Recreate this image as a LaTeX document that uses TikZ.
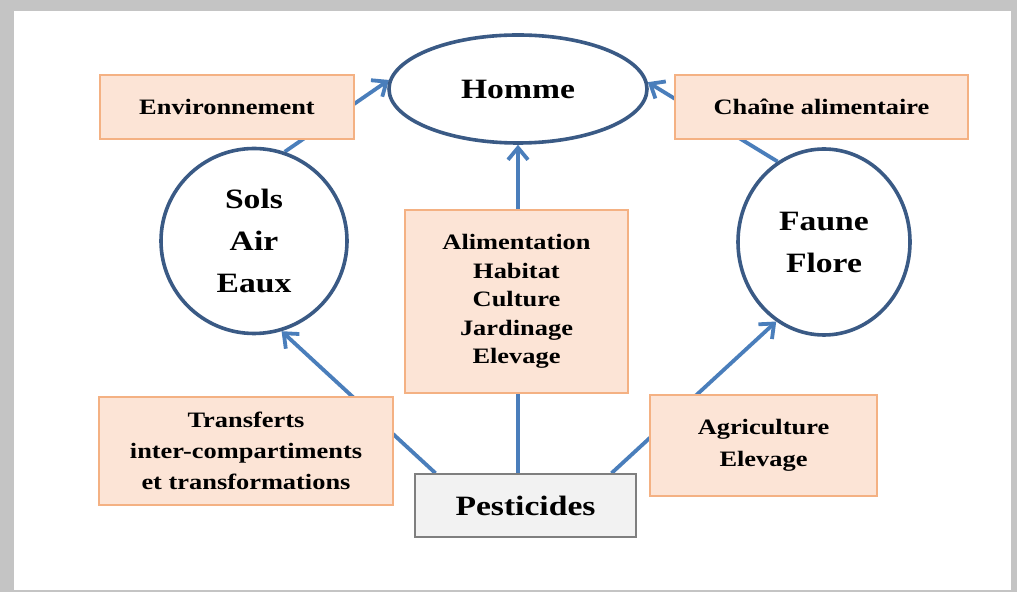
\documentclass[tikz,border=0pt]{standalone}
\usepackage{fontspec}
\setmainfont{Liberation Serif}[FakeStretch=1.2]
\usetikzlibrary{shapes.geometric,arrows.meta,backgrounds}
\definecolor{peach}{HTML}{FCE4D6}
\definecolor{peachline}{HTML}{F4B183}
\definecolor{ovalline}{HTML}{3A5A85}
\definecolor{arrowblue}{HTML}{4A7EBB}
\definecolor{pestfill}{HTML}{F2F2F2}
\definecolor{pestline}{HTML}{7F7F7F}
\definecolor{shadowgray}{HTML}{C4C4C4}
\begin{document}
\begin{tikzpicture}[x=0.5pt,y=-0.5pt,
	box/.style={draw=peachline,fill=peach,line width=0.8pt,align=center,inner sep=0pt,font=\bfseries\fontsize{11}{15.5}\selectfont},
	oval/.style={ellipse,draw=ovalline,fill=white,line width=1.8pt,align=center,inner sep=0pt,font=\bfseries\fontsize{14}{21}\selectfont},
	flow/.style={draw=arrowblue,line width=1.9pt,-{Straight Barb[length=6pt,width=10pt]}}]
	\useasboundingbox (0,0) rectangle (1017,592);
	% centre
	\node[oval,minimum width=129pt,minimum height=54pt] (homme) at (518,89) {Homme};
	\node[box,minimum width=111.5pt,minimum height=91.5pt,font=\bfseries\fontsize{11}{14.25}\selectfont] (usages) at (516.5,301.5) {Alimentation\\Habitat\\Culture\\Jardinage\\Elevage};
	\node[draw=pestline,fill=pestfill,line width=0.8pt,inner sep=0pt,minimum width=110.5pt,minimum height=31.5pt,font=\bfseries\fontsize{14}{17}\selectfont] (pest) at (525.5,505.5) {Pesticides};
	% gauche
	\node[box,minimum width=127pt,minimum height=32pt] (env) at (227,107) {Environnement};
	\node[oval,minimum width=93pt,minimum height=92.5pt] (sols) at (254,241) {Sols\\Air\\Eaux};
	\node[box,minimum width=147pt,minimum height=54pt] (transf) at (246,451) {Transferts\\inter-compartiments\\et transformations};
	% droite
	\node[box,minimum width=146.5pt,minimum height=32pt] (chaine) at (821.5,107) {Chaîne alimentaire};
	\node[oval,minimum width=86pt,minimum height=93pt] (faune) at (824,242) {Faune\\Flore};
	\node[box,minimum width=113.5pt,minimum height=50.5pt,font=\bfseries\fontsize{11}{16}\selectfont] (agri) at (763.5,445.5) {Agriculture\\Elevage};
	\begin{pgfonlayer}{background}
		\fill[shadowgray] (0,0) rectangle (1017,592);
		\fill[white] (14,11) rectangle (1011,590);
		\draw[flow] ([xshift=-45pt]pest.north) -- (sols.-73);
		\draw[flow] (pest.north -| homme) -- (homme.south);
		\draw[flow] ([xshift=43pt]pest.north) -- (faune.-121);
		\draw[flow] (sols.71) -- (homme.176);
		\draw[flow] (faune.120) -- (homme.3);
	\end{pgfonlayer}
\end{tikzpicture}
\end{document}
